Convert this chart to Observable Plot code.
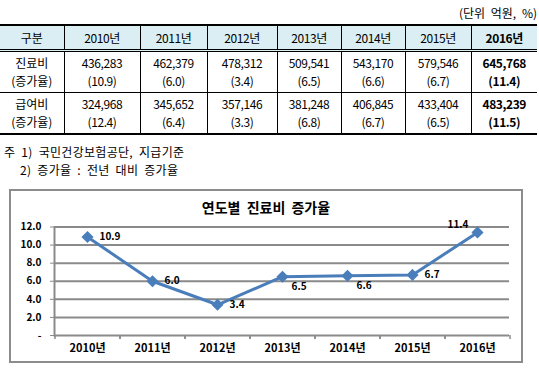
<!DOCTYPE html>
<html><head><meta charset="utf-8">
<script src="https://cdn.jsdelivr.net/npm/d3@7"></script>
<script src="https://cdn.jsdelivr.net/npm/@observablehq/plot@0.6"></script>
<style>
body{margin:0;width:539px;height:368px;position:relative;overflow:hidden;background:#fff;font-family:"Noto Sans CJK KR","Noto Sans",sans-serif;color:#000}
#unit{position:absolute;right:2px;top:5px;font-size:12px;line-height:16px;white-space:nowrap;word-spacing:3px}
table{position:absolute;left:0;top:24px;width:537px;border-collapse:collapse;table-layout:fixed;font-size:12px}
th,td{padding:0;text-align:center;vertical-align:middle;border-left:1px solid #000;font-weight:normal;line-height:18px}
th:first-child,td:first-child{border-left:none}
thead tr{background:#daeef3;border-top:2px solid #000;border-bottom:3px double #000}
thead th{height:23px}
tbody td{height:40px}
tbody tr{border-bottom:1px solid #000}
tbody tr:last-child{border-bottom:2px solid #000}
.num{letter-spacing:-0.4px}
.b{font-weight:bold}
#notes{position:absolute;left:4px;top:143px;font-size:12px;line-height:18px;white-space:nowrap;word-spacing:3px;letter-spacing:0.3px}
#box{position:absolute;left:9px;top:189px;width:514px;height:174px;border:2px solid #8c8c8c;box-sizing:border-box}
#title{position:absolute;left:0;width:100%;top:6px;text-align:center;font-size:14px;font-weight:bold;line-height:20px;word-spacing:3px}
#chart{position:absolute;left:0;top:0}
</style>
</head><body>
<div id="unit">(단위 억원, %)</div>
<table id="tbl"><colgroup>
<col style="width:64px"><col style="width:76px"><col style="width:67px"><col style="width:70px"><col style="width:64px"><col style="width:64px"><col style="width:66px"><col style="width:66px">
</colgroup><thead></thead><tbody></tbody></table>
<div id="notes">주 1) 국민건강보험공단, 지급기준<br><span style="padding-left:16px">2) 증가율 : 전년 대비 증가율</span></div>
<div id="box"><div id="title">연도별 진료비 증가율</div><div id="chart"></div></div>
<script>
const years = ["2010년","2011년","2012년","2013년","2014년","2015년","2016년"];
const medicalCost = [436283, 462379, 478312, 509541, 543170, 579546, 645768];
const medicalGrowth = [10.9, 6.0, 3.4, 6.5, 6.6, 6.7, 11.4];
const benefitCost = [324968, 345652, 357146, 381248, 406845, 433404, 483239];
const benefitGrowth = [12.4, 6.4, 3.3, 6.8, 6.7, 6.5, 11.5];
const rowLabels = [["진료비","(증가율)"],["급여비","(증가율)"]];
const headLabel = "구분";
const yTicks = [0, 2, 4, 6, 8, 10, 12];

// table
const fmt = d3.format(",");
const thead = document.querySelector("#tbl thead");
const tbody = document.querySelector("#tbl tbody");
const last = years.length - 1;
thead.innerHTML = "<tr><th>" + headLabel + "</th>" +
  years.map((y, i) => `<th class="num${i === last ? " b" : ""}">${y}</th>`).join("") + "</tr>";
const rows = [[medicalCost, medicalGrowth], [benefitCost, benefitGrowth]];
tbody.innerHTML = rows.map(([cost, growth], r) =>
  `<tr><td>${rowLabels[r][0]}<br>${rowLabels[r][1]}</td>` +
  cost.map((c, i) => `<td class="num${i === last ? " b" : ""}">${fmt(c)}<br>(${growth[i].toFixed(1)})</td>`).join("") +
  "</tr>").join("");

// chart
const data = years.map((year, i) => ({year, growth: medicalGrowth[i], i}));
const W = 510, H = 170, mL = 43, mR = 12, mT = 35.5, mB = 26;
const step = (W - mL - mR) / years.length;
const grid = "#8a8a8a", blue = "#4a7ebb";
const right = [0, 1, 2, 5], below = [3, 4], above = [6];
const chart = Plot.plot({
  width: W, height: H,
  marginLeft: mL, marginRight: mR, marginTop: mT, marginBottom: mB,
  style: {fontFamily: '"Noto Sans CJK KR", sans-serif', background: "transparent", color: "#000"},
  x: {type: "point", domain: years, padding: 0.5, axis: null},
  y: {domain: [0, 12], axis: null},
  marks: [
    Plot.gridY(yTicks, {stroke: grid, strokeOpacity: 1, strokeWidth: 2}),
    Plot.frame({anchor: "left", stroke: grid, strokeWidth: 2}),
    Plot.axisY(yTicks, {label: null, tickSize: 4, tickPadding: 9, stroke: grid, fill: "#000", fontSize: 10, fontWeight: "bold",
      tickFormat: d => d === 0 ? "-" : d.toFixed(1)}),
    Plot.axisX({label: null, tickSize: 0, tickPadding: 9, fontSize: 11, fontWeight: "bold", fill: "#000"}),
    Plot.axisX({label: null, tickSize: 4, dx: -step / 2, stroke: grid, strokeWidth: 1.5, tickFormat: () => ""}),
    Plot.axisX({label: null, tickSize: 4, dx: step / 2, stroke: grid, strokeWidth: 1.5, tickFormat: () => ""}),
    Plot.line(data, {x: "year", y: "growth", stroke: blue, strokeWidth: 3}),
    Plot.dot(data, {x: "year", y: "growth", symbol: "diamond2", r: 4.5, fill: blue, stroke: blue}),
    Plot.text(data, {filter: d => right.includes(d.i), x: "year", y: "growth", text: d => d.growth.toFixed(1),
      textAnchor: "start", dx: 12, dy: 0, fontSize: 10, fontWeight: "bold", fill: "#000"}),
    Plot.text(data, {filter: d => below.includes(d.i), x: "year", y: "growth", text: d => d.growth.toFixed(1),
      textAnchor: "start", dx: 9, dy: 10, fontSize: 10, fontWeight: "bold", fill: "#000"}),
    Plot.text(data, {filter: d => above.includes(d.i), x: "year", y: "growth", text: d => d.growth.toFixed(1),
      textAnchor: "end", dx: -9, dy: -8, fontSize: 10, fontWeight: "bold", fill: "#000"})
  ]
});
document.getElementById("chart").appendChild(chart);
</script>
</body></html>
